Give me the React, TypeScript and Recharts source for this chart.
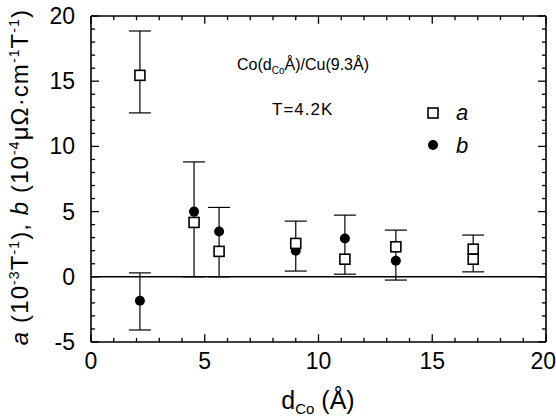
import React from "react";
import {
  ErrorBar,
  ReferenceLine,
  Scatter,
  ScatterChart,
  XAxis,
  YAxis,
} from "recharts";

// values
const aX = [2.15, 4.53, 5.63, 9.0, 11.16, 13.4, 16.8, 16.8];
const aVal = [15.45, 4.17, 1.95, 2.56, 1.35, 2.3, 2.12, 1.35];
const bX = [2.15, 4.53, 5.63, 9.0, 11.16, 13.4, 16.8];
const bVal = [-1.84, 5.0, 3.48, 2.0, 2.94, 1.23, 2.0];
// error bars: lower and upper ends
const errX = [2.15, 2.15, 4.53, 5.63, 9.0, 11.16, 13.4, 16.8];
const errLow = [12.57, -4.08, 0, 0, 0.44, 0.2, -0.25, 0.38];
const errHigh = [18.85, 0.3, 8.81, 5.32, 4.27, 4.73, 3.58, 3.2];

const xTicks = Array.from({ length: 21 }, (_, i) => i);
const yTicks = Array.from({ length: 26 }, (_, i) => i - 5);

const FONT = '"Liberation Sans", Arial, Helvetica, sans-serif';

const aData = aX.map((x, i) => ({ x, y: aVal[i] }));
const bData = bX.map((x, i) => ({ x, y: bVal[i] }));
const errData = errX.map((x, i) => ({
  x,
  y: errLow[i],
  err: [0, errHigh[i] - errLow[i]],
}));

// inward tick marks, lengths in axis units (major ticks every 5)
const isMajor = (v: number) => v % 5 === 0;
const tickSegs = [
  ...xTicks.map((t) => {
    const l = isMajor(t) ? 0.6 : 0.32;
    return [
      [{ x: t, y: -5 }, { x: t, y: -5 + l }],
      [{ x: t, y: 20 }, { x: t, y: 20 - l }],
    ];
  }),
  ...yTicks.map((t) => {
    const l = isMajor(t) ? 0.35 : 0.18;
    return [
      [{ x: 0, y: t }, { x: l, y: t }],
      [{ x: 20, y: t }, { x: 20 - l, y: t }],
    ];
  }),
].flat();

function XLabel(props: any) {
  const { x, payload } = props;
  if (!isMajor(payload.value)) return <g />;
  const last = payload.value === 20;
  return (
    <text
      x={last ? x + 10 : x}
      y={369}
      textAnchor={last ? "end" : "middle"}
      fontSize={23}
      fill="#000"
      fontFamily={FONT}
    >
      {payload.value}
    </text>
  );
}

function YLabel(props: any) {
  const { y, payload } = props;
  if (!isMajor(payload.value)) return <g />;
  return (
    <text x={75} y={y + 8} textAnchor="end" fontSize={23} fill="#000" fontFamily={FONT}>
      {payload.value}
    </text>
  );
}

const Square = (p: any) => (
  <rect x={p.cx - 5} y={p.cy - 5} width={10} height={10} fill="#fff" stroke="#000" strokeWidth={1.6} />
);
const Dot = (p: any) => <circle cx={p.cx} cy={p.cy} r={5} fill="#000" />;
const Nothing = () => <g />;

const axisStroke = { stroke: "#000", strokeWidth: 1.6 };

export default function App() {
  return (
    <div style={{ position: "absolute", left: 0, top: 0, width: 556, height: 416, background: "#fff" }}>
      <ScatterChart
        width={556}
        height={416}
        margin={{ top: 15, right: 9, bottom: 0, left: 31 }}
      >
        <XAxis
          type="number"
          dataKey="x"
          domain={[0, 20]}
          ticks={xTicks}
          interval={0}
          height={74}
          tickLine={false}
          axisLine={axisStroke}
          tick={(p: any) => <XLabel {...p} />}
          allowDataOverflow
        />
        <XAxis
          xAxisId="top"
          orientation="top"
          type="number"
          dataKey="x"
          domain={[0, 20]}
          height={1}
          tickLine={false}
          axisLine={axisStroke}
          tick={false}
          allowDataOverflow
        />
        <YAxis
          type="number"
          dataKey="y"
          domain={[-5, 20]}
          ticks={yTicks}
          interval={0}
          width={60}
          tickLine={false}
          axisLine={axisStroke}
          tick={(p: any) => <YLabel {...p} />}
          allowDataOverflow
        />
        <YAxis
          yAxisId="right"
          orientation="right"
          type="number"
          dataKey="y"
          domain={[-5, 20]}
          width={1}
          tickLine={false}
          axisLine={axisStroke}
          tick={false}
          allowDataOverflow
        />
        {tickSegs.map((seg, i) => (
          <ReferenceLine key={"t" + i} segment={seg} stroke="#000" strokeWidth={1.3} />
        ))}
        <ReferenceLine y={0} stroke="#000" strokeWidth={1.6} />
        <Scatter data={errData} shape={Nothing} isAnimationActive={false}>
          <ErrorBar dataKey="err" direction="y" width={11} stroke="#000" strokeWidth={1.2} />
        </Scatter>
        <Scatter
          data={aData}
          xAxisId="top"
          yAxisId="right"
          shape={Nothing}
          isAnimationActive={false}
        />
        <Scatter data={bData} shape={Dot} isAnimationActive={false} />
        <Scatter data={aData} shape={Square} isAnimationActive={false} />
      </ScatterChart>
      <svg
        width={556}
        height={416}
        style={{ position: "absolute", left: 0, top: 0, pointerEvents: "none" }}
        fontFamily={FONT}
      >
        <text
          transform="translate(28,177) rotate(-90)"
          textAnchor="middle"
          fontSize={24}
          letterSpacing={1.1}
          fill="#000"
        >
          <tspan fontStyle="italic">a</tspan>
          <tspan> (10</tspan>
          <tspan dy={-9} fontSize={14}>-3</tspan>
          <tspan dy={9}>T</tspan>
          <tspan dy={-9} fontSize={14}>-1</tspan>
          <tspan dy={9}>), </tspan>
          <tspan fontStyle="italic">b</tspan>
          <tspan> (10</tspan>
          <tspan dy={-9} fontSize={14}>-4</tspan>
          <tspan dy={9}>μΩ·cm</tspan>
          <tspan dy={-9} fontSize={14}>-1</tspan>
          <tspan dy={9}>T</tspan>
          <tspan dy={-9} fontSize={14}>-1</tspan>
          <tspan dy={9}>)</tspan>
        </text>
        <text x={318} y={409} textAnchor="middle" fontSize={25} fill="#000">
          <tspan>d</tspan>
          <tspan dy={5} fontSize={15}>Co</tspan>
          <tspan dy={-5}> (Å)</tspan>
        </text>
        <text x={303} y={70} textAnchor="middle" fontSize={16} fill="#000">
          <tspan>Co(d</tspan>
          <tspan dy={4} fontSize={10}>Co</tspan>
          <tspan dy={-4}>Å)/Cu(9.3Å)</tspan>
        </text>
        <text x={272} y={115} fontSize={17} letterSpacing={1} fill="#000">T=4.2K</text>
        <rect x={428} y={108} width={10} height={10} fill="#fff" stroke="#000" strokeWidth={1.6} />
        <text x={456} y={120} fontSize={22} fontStyle="italic" fill="#000">a</text>
        <circle cx={433} cy={145} r={5} fill="#000" />
        <text x={456} y={153} fontSize={22} fontStyle="italic" fill="#000">b</text>
      </svg>
    </div>
  );
}
